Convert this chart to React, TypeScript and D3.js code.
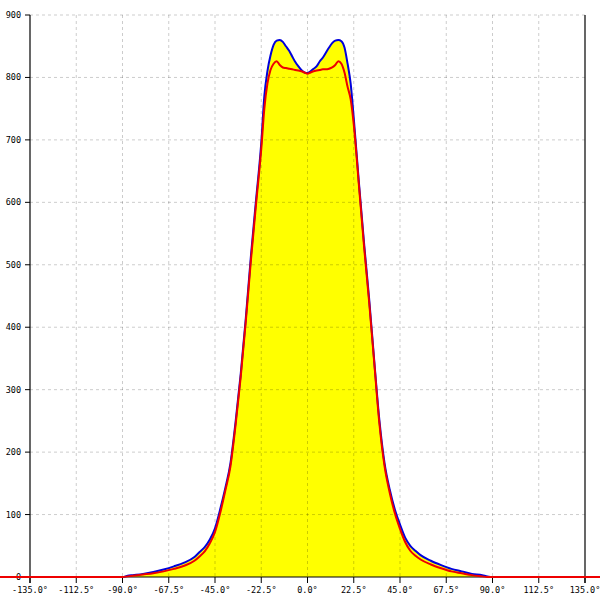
import React from "react";
import * as d3 from "d3";

const angles = [-180, -90, -87.5, -85, -80, -75, -70, -65, -60, -55, -52.5, -50, -47.5, -45, -42.5, -40, -37.5, -35, -32.5, -30, -27.5, -25, -22.5, -21, -19.5, -18, -16.5, -15, -13.5, -12, -10.5, -9, -7.5, -6, -4.5, -3, -1.5, 0, 1.5, 3, 4.5, 6, 7.5, 9, 10.5, 12, 13.5, 15, 16.5, 18, 19.5, 21, 22.5, 25, 27.5, 30, 32.5, 35, 37.5, 40, 42.5, 45, 47.5, 50, 52.5, 55, 60, 65, 70, 75, 80, 85, 87.5, 90, 180];

const blueValues = [0, 0, 2, 3, 5, 8, 12, 17, 23, 32, 40, 48, 60, 78, 108, 142, 182, 248, 325, 415, 515, 605, 695, 770, 810, 835, 852, 859, 860, 857, 850, 843, 834, 825, 818, 812, 808, 807, 810, 814, 818, 826, 832, 840, 848, 855, 859, 860, 858, 848, 822, 790, 735, 632, 535, 445, 345, 250, 182, 140, 108, 84, 63, 50, 42, 35, 26, 19, 13, 9, 5, 3, 1, 0, 0];

const redValues = [0, 0, 1, 2, 4, 6, 9, 13, 18, 26, 33, 41, 54, 72, 102, 138, 177, 243, 320, 410, 508, 598, 685, 750, 790, 812, 822, 826, 820, 816, 815, 814, 813, 812, 811, 810, 808, 806, 808, 810, 811, 812, 813, 813, 814, 816, 820, 826, 822, 808, 785, 765, 725, 628, 530, 440, 342, 245, 177, 135, 102, 77, 56, 42, 34, 28, 20, 14, 9, 6, 3, 1, 0, 0, 0];

const xTicks = [-135, -112.5, -90, -67.5, -45, -22.5, 0, 22.5, 45, 67.5, 90, 112.5, 135];
const yTicks = [0, 100, 200, 300, 400, 500, 600, 700, 800, 900];

export default function App() {
  const x = d3.scaleLinear().domain([-135, 135]).range([30, 585]);
  const y = d3.scaleLinear().domain([0, 900]).range([577, 15]);
  const blue = angles.map((a, i) => [a, blueValues[i]] as [number, number]);
  const red = angles.map((a, i) => [a, redValues[i]] as [number, number]);
  const line = d3.line<[number, number]>().x(d => x(d[0])).y(d => y(d[1])).curve(d3.curveMonotoneX);
  const area = d3.area<[number, number]>().x(d => x(d[0])).y0(y(0)).y1(d => y(d[1])).curve(d3.curveMonotoneX);
  const font = "'DejaVu Sans Mono', monospace";
  return (
    <svg width={600} height={600} style={{ position: "absolute", left: 0, top: 0, background: "#fff" }}>
      <path d={area(blue) ?? ""} fill="#ffff00" />
      {yTicks.filter(t => t > 0).map(t => (
        <line key={"gy" + t} x1={30} x2={585} y1={y(t)} y2={y(t)} stroke="#000" strokeOpacity={0.2} strokeDasharray="3,3" />
      ))}
      {xTicks.filter(t => t > -135 && t < 135).map(t => (
        <line key={"gx" + t} x1={x(t)} x2={x(t)} y1={15} y2={577} stroke="#000" strokeOpacity={0.2} strokeDasharray="3,3" />
      ))}
      <line x1={30} x2={30} y1={15} y2={583} stroke="#000" strokeWidth={1.2} />
      <line x1={585} x2={585} y1={15} y2={583} stroke="#000" strokeWidth={1.2} />
      <line x1={30} x2={585} y1={577} y2={577} stroke="#000" />
      {yTicks.map(t => (
        <g key={"ty" + t}>
          <line x1={25} x2={30} y1={y(t)} y2={y(t)} stroke="#000" />
          <text x={21} y={y(t)} dy="0.35em" textAnchor="end" fontFamily={font} fontSize={8.5} fill="#000">{t}</text>
        </g>
      ))}
      {xTicks.map(t => (
        <g key={"tx" + t}>
          <line x1={x(t)} x2={x(t)} y1={577} y2={583} stroke="#000" />
          <text x={x(t)} y={593} textAnchor="middle" fontFamily={font} fontSize={8.5} fill="#000">{t.toFixed(1) + "°"}</text>
        </g>
      ))}
      <path d={line(blue) ?? ""} fill="none" stroke="#0000dd" strokeWidth={2} />
      <path d={line(red) ?? ""} fill="none" stroke="#ee0000" strokeWidth={2} />
    </svg>
  );
}
